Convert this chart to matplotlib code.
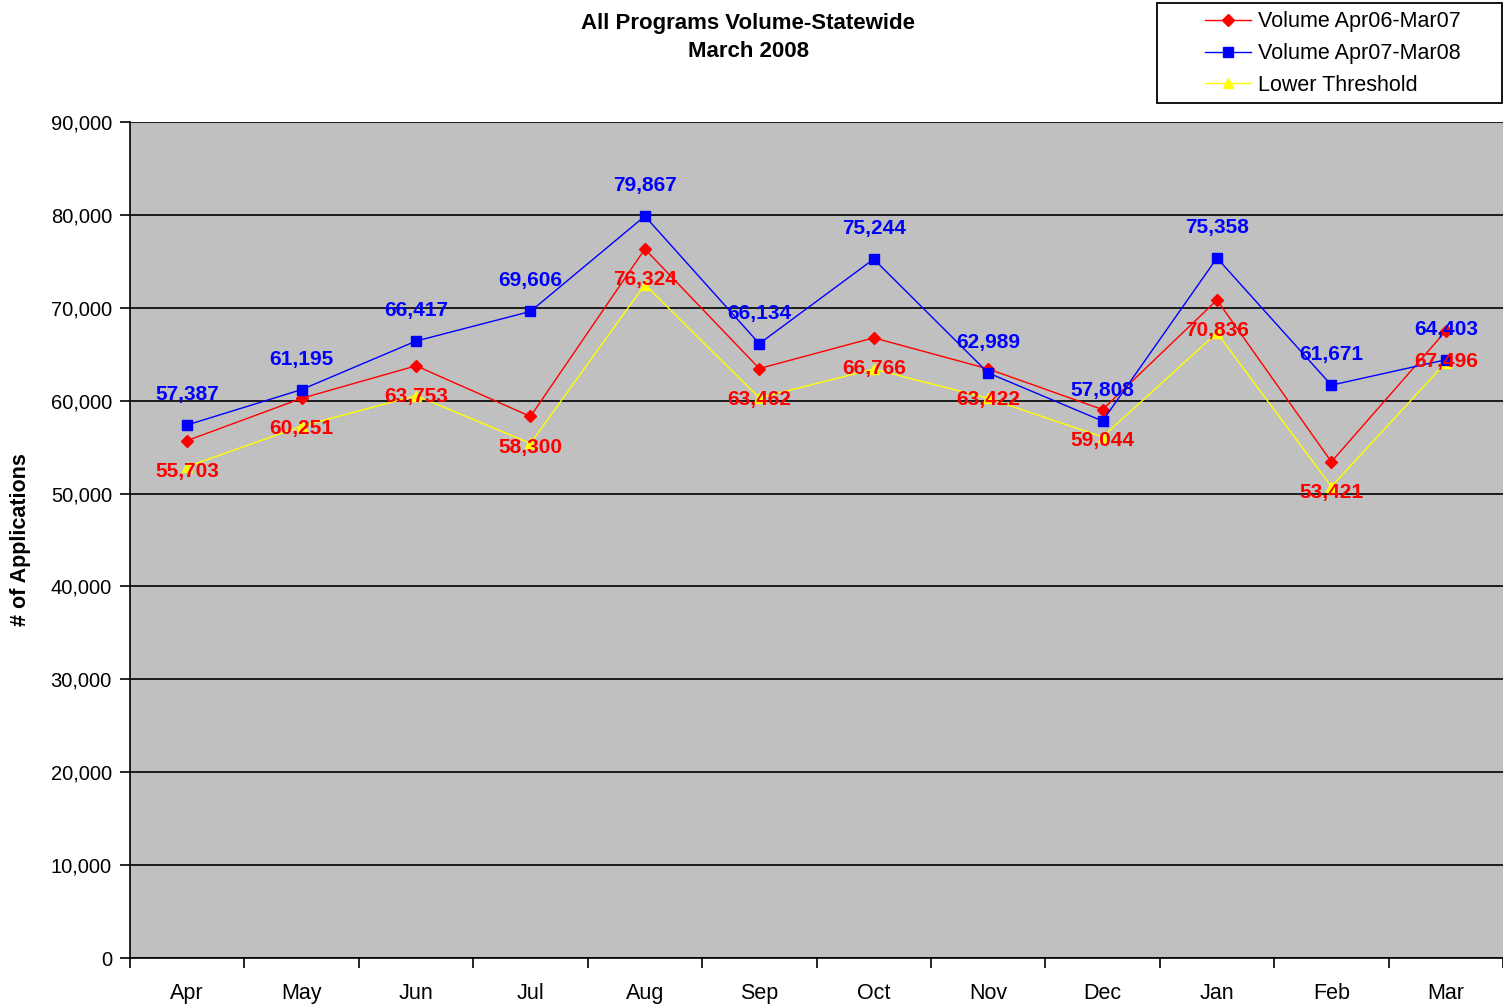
import numpy as np
import matplotlib
matplotlib.use("Agg")
import matplotlib.pyplot as plt
from matplotlib.patches import Rectangle

plt.rcParams['font.family'] = ['Liberation Sans', 'DejaVu Sans']

months = ["Apr", "May", "Jun", "Jul", "Aug", "Sep", "Oct", "Nov", "Dec", "Jan", "Feb", "Mar"]
vol_0607 = [55703, 60251, 63753, 58300, 76324, 63462, 66766, 63422, 59044, 70836, 53421, 67496]
vol_0708 = [57387, 61195, 66417, 69606, 79867, 66134, 75244, 62989, 57808, 75358, 61671, 64403]
# (yellow line)
lower = [52900, 57250, 60550, 55400, 72500, 60300, 63400, 60250, 56100, 67300, 50750, 64100]

fig = plt.figure(figsize=(15.03, 10.06), dpi=100)
ax = fig.add_axes([130 / 1503, 48 / 1006, 1373 / 1503, 836 / 1006])
ax.set_facecolor("#C0C0C0")

x = np.arange(len(months))
l1, = ax.plot(x, vol_0607, color="#FF0000", lw=1, marker="D", ms=6, label="Volume Apr06-Mar07", zorder=4)
l2, = ax.plot(x, vol_0708, color="#0000FF", lw=1, marker="s", ms=7, label="Volume Apr07-Mar08", zorder=5)
l3, = ax.plot(x, lower, color="#FFFF00", lw=1, marker="^", ms=7, label="Lower Threshold", zorder=3)

lbl_font = dict(family=['Liberation Sans Narrow', 'Liberation Sans'], fontsize=15, fontweight="bold", ha="center")
for xi, v in zip(x, vol_0708):
    ax.annotate(f"{v:,}", (xi, v), xytext=(0, 22), textcoords="offset points", va="center",
                color="#0000FF", zorder=6, **lbl_font)
for xi, v in zip(x, vol_0607):
    ax.annotate(f"{v:,}", (xi, v), xytext=(0, -22), textcoords="offset points", va="center",
                color="#FF0000", zorder=6, **lbl_font)

ax.set_xlim(-0.5, 11.5)
ax.set_ylim(0, 90000)
ax.set_yticks(np.arange(0, 90001, 10000))
ax.set_yticklabels([f"{v:,}" for v in range(0, 90001, 10000)], fontsize=14.5)
ax.yaxis.grid(True, color="black", lw=1.2)
ax.set_axisbelow(True)
ax.set_xticks(np.arange(-0.5, 12, 1))
ax.set_xticklabels([])
ax.set_xticks(x, minor=True)
ax.set_xticklabels(months, minor=True, fontsize=15.5)
ax.tick_params(axis="x", which="major", length=7, width=1.2, direction="out")
ax.tick_params(axis="x", which="minor", length=0, pad=18)
ax.tick_params(axis="y", length=7, width=1.2, direction="out", pad=6)
for s in ["top", "right"]:
    ax.spines[s].set_visible(False)
for s in ["left", "bottom"]:
    ax.spines[s].set_linewidth(1.2)

ax.set_ylabel("# of Applications", fontsize=15.5, fontweight="bold", labelpad=14)
fig.text(748 / 1503, 1 - 13 / 1006, "All Programs Volume-Statewide\nMarch 2008", ha="center", va="top",
         fontsize=16, fontweight="bold", linespacing=1.45)

# legend: box drawn separately so the wide left margin of the original can be kept
leg = fig.legend(handles=[l1, l2, l3], loc="upper left", bbox_to_anchor=(1201 / 1503, 1 - 7 / 1006),
                 fontsize=15.5, frameon=False, handlelength=2.1, handletextpad=0.35,
                 borderpad=0.2, labelspacing=0.5, borderaxespad=0)
fig.patches.append(Rectangle((1157 / 1503, 1 - 103 / 1006), 345 / 1503, 100 / 1006,
                             transform=fig.transFigure, fill=False, edgecolor="black", lw=1.3))

fig.savefig("out.png", dpi=100)
